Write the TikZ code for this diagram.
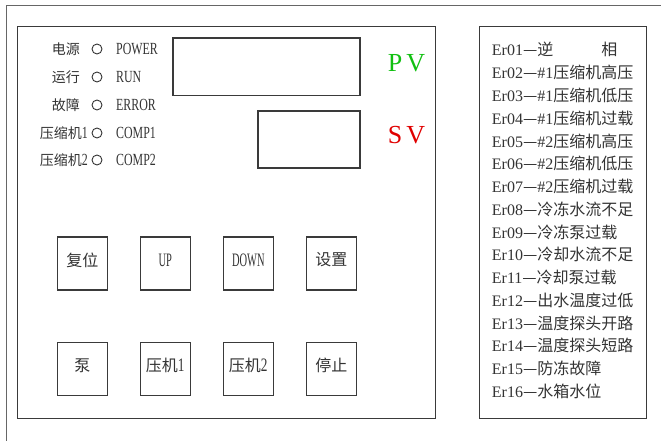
\documentclass[tikz,border=0pt]{standalone}
\usepackage{fontspec}
\setmainfont{Liberation Serif}
\newfontfamily\cjk{Noto Sans CJK SC}
\newfontfamily\narrow{Liberation Serif}[FakeStretch=0.7]
\newfontfamily\narrowb{Liberation Serif}[FakeStretch=0.55]
\definecolor{ink}{HTML}{333333}
\definecolor{frame}{HTML}{3A3A3A}
\definecolor{pvgreen}{HTML}{11C011}
\definecolor{svred}{HTML}{E00000}
\tikzset{
  panel/.style={draw=frame, line width=1.1pt},
  disp/.style={draw=frame, line width=1.1pt},
  btn/.style={draw=frame, line width=1.1pt, minimum width=50pt, minimum height=53pt, inner sep=0pt},
  btntxt/.style={inner sep=0pt, text=ink, font=\fontsize{16}{16}\selectfont},
  ledlbl/.style={anchor=base east, inner sep=0pt, text=ink, font=\fontsize{14}{14}\selectfont},
  ledlat/.style={anchor=base west, inner sep=0pt, text=ink, font=\fontsize{17}{17}\narrow},
  led/.style={draw=ink, line width=0.9pt, circle, minimum size=10pt, inner sep=0pt},
  ertxt/.style={anchor=base west, inner sep=0pt, text=ink, font=\fontsize{16}{16}\selectfont},
  bigtxt/.style={inner sep=0pt, font=\fontsize{26}{26}\selectfont}
}
\begin{document}
\begin{tikzpicture}[x=1pt,y=-1pt]
\useasboundingbox (0,0) rectangle (661,441);
% outer frame (partly visible)
\draw[draw=gray!80!black, line width=1pt] (661,5.5) -- (6,5.5) -- (6,441);
% main panel and error-code panel
\draw[panel] (17.3,26.7) rectangle (435.5,418.3);
\draw[panel] (479.3,26.7) rectangle (646.3,418.3);
% displays
\draw[disp] (173,38) rectangle (360,95.7);
\draw[disp] (258,111) rectangle (360,168);
\node[bigtxt, text=pvgreen] (pv) at (406.5,63) {P\hspace{4pt}V};
\node[bigtxt, text=svred] (sv) at (406.5,135) {S\hspace{4pt}V};
% LED rows
\node[ledlbl] (l1) at (80,54.5) {\cjk 电源};
\node[ledlbl] (l2) at (80,82.5) {\cjk 运行};
\node[ledlbl] (l3) at (80,110.5) {\cjk 故障};
\node[ledlbl] (l4) at (88,138.5) {{\cjk 压缩机}{\narrow\fontsize{17}{17}\selectfont 1}};
\node[ledlbl] (l5) at (88,165.5) {{\cjk 压缩机}{\narrow\fontsize{17}{17}\selectfont 2}};
\foreach \y [count=\i] in {49,77,105,133,160} {
  \node[led] (c\i) at (97,\y) {};
}
\node[ledlat] (t1) at (116,54.5) {POWER};
\node[ledlat] (t2) at (116,82.5) {RUN};
\node[ledlat] (t3) at (116,110.5) {ERROR};
\node[ledlat] (t4) at (116,138.5) {COMP1};
\node[ledlat] (t5) at (116,165.5) {COMP2};
% buttons
\node[btn] (b1) at (82.3,263.5) {};
\node[btn] (b2) at (165.3,263.5) {};
\node[btn] (b3) at (248.3,263.5) {};
\node[btn] (b4) at (331.3,263.5) {};
\node[btn] (b5) at (82.3,369.2) {};
\node[btn] (b6) at (165.3,369.2) {};
\node[btn] (b7) at (248.3,369.2) {};
\node[btn] (b8) at (331.3,369.2) {};
\node[btntxt] (bt1) at ([yshift=3.5pt]b1.center) {\cjk 复位};
\node[btntxt] (bt2) at ([yshift=3.5pt]b2.center) {\narrowb\fontsize{19}{19}\selectfont UP};
\node[btntxt] (bt3) at ([yshift=3.5pt]b3.center) {\narrowb\fontsize{19}{19}\selectfont DOWN};
\node[btntxt] (bt4) at ([yshift=3.5pt]b4.center) {\cjk 设置};
\node[btntxt] (bt5) at ([yshift=3.5pt]b5.center) {\cjk 泵};
\node[btntxt] (bt6) at ([yshift=3.5pt]b6.center) {{\cjk 压机}{\narrow\fontsize{19}{19}\selectfont 1}};
\node[btntxt] (bt7) at ([yshift=3.5pt]b7.center) {{\cjk 压机}{\narrow\fontsize{19}{19}\selectfont 2}};
\node[btntxt] (bt8) at ([yshift=3.5pt]b8.center) {\cjk 停止};
% error codes
\foreach \t [count=\i from 0] in {
  {Er01{\cjk —逆\hspace{3em}相}},
  {Er02{\cjk —}\#1{\cjk 压缩机高压}},
  {Er03{\cjk —}\#1{\cjk 压缩机低压}},
  {Er04{\cjk —}\#1{\cjk 压缩机过载}},
  {Er05{\cjk —}\#2{\cjk 压缩机高压}},
  {Er06{\cjk —}\#2{\cjk 压缩机低压}},
  {Er07{\cjk —}\#2{\cjk 压缩机过载}},
  {Er08{\cjk —冷冻水流不足}},
  {Er09{\cjk —冷冻泵过载}},
  {Er10{\cjk —冷却水流不足}},
  {Er11{\cjk —冷却泵过载}},
  {Er12{\cjk —出水温度过低}},
  {Er13{\cjk —温度探头开路}},
  {Er14{\cjk —温度探头短路}},
  {Er15{\cjk —防冻故障}},
  {Er16{\cjk —水箱水位}}} {
  \node[ertxt] (er\i) at (491.7,56+22.75*\i) {\t};
}
\end{tikzpicture}
\end{document}
